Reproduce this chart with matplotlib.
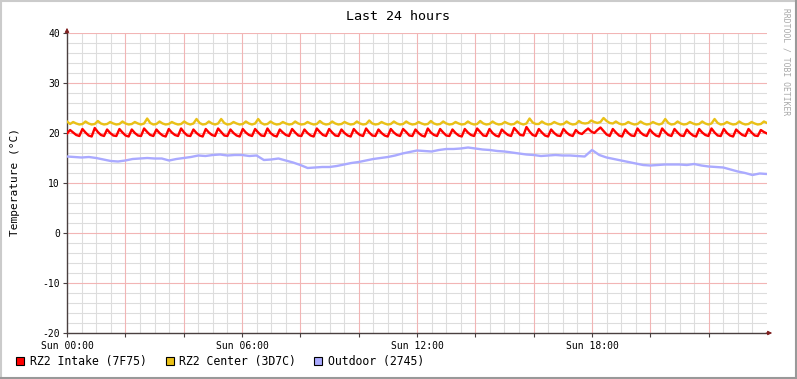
import numpy as np
import matplotlib
matplotlib.use("Agg")
import matplotlib.pyplot as plt
from matplotlib.lines import Line2D
from matplotlib.patches import Rectangle

plt.rcParams['font.family'] = ['DejaVu Sans Mono']
plt.rcParams['axes.unicode_minus'] = False

# RZ2 Intake, 4 samples per heating cycle, 57 cycles over 24 h
intake = [
    19.9, 20.6, 20.1, 19.6,  19.4, 20.8, 20.1, 19.5,  19.3, 21.0, 20.2, 19.6,
    19.4, 20.7, 20.0, 19.5,  19.4, 20.8, 20.1, 19.5,  19.3, 20.7, 20.0, 19.5,
    19.4, 20.9, 20.2, 19.6,  19.4, 20.7, 20.0, 19.5,  19.3, 20.8, 20.1, 19.6,
    19.4, 20.9, 20.1, 19.5,  19.4, 20.7, 20.0, 19.5,  19.3, 20.8, 20.1, 19.6,
    19.4, 20.9, 20.2, 19.5,  19.4, 20.7, 20.0, 19.5,  19.3, 20.8, 20.1, 19.6,
    19.4, 20.8, 20.1, 19.5,  19.4, 20.9, 20.0, 19.5,  19.3, 20.7, 20.1, 19.6,
    19.4, 20.8, 20.1, 19.5,  19.4, 20.7, 20.0, 19.5,  19.3, 20.9, 20.2, 19.6,
    19.4, 20.8, 20.1, 19.5,  19.4, 20.7, 20.0, 19.5,  19.3, 20.8, 20.1, 19.6,
    19.4, 20.9, 20.1, 19.5,  19.4, 20.7, 20.0, 19.5,  19.3, 20.8, 20.1, 19.6,
    19.4, 20.8, 20.2, 19.5,  19.4, 20.7, 20.0, 19.5,  19.3, 20.9, 20.1, 19.6,
    19.4, 20.8, 20.1, 19.5,  19.4, 20.7, 20.0, 19.5,  19.3, 20.8, 20.1, 19.6,
    19.4, 20.9, 20.2, 19.5,  19.4, 20.8, 20.0, 19.5,  19.3, 20.7, 20.1, 19.6,
    19.4, 21.0, 20.3, 19.6,  19.5, 21.2, 20.3, 19.6,  19.4, 20.8, 20.1, 19.5,
    19.3, 20.7, 20.0, 19.5,  19.4, 20.8, 20.1, 19.6,  19.4, 20.6, 20.0, 19.8,
    20.4, 20.9, 20.3, 20.0,  20.6, 21.1, 20.4, 19.7,  19.4, 20.8, 20.1, 19.5,
    19.3, 20.7, 20.0, 19.5,  19.4, 20.9, 20.1, 19.6,  19.4, 20.7, 20.0, 19.5,
    19.3, 20.9, 20.2, 19.6,  19.4, 20.8, 20.1, 19.5,  19.4, 20.7, 20.0, 19.5,
    19.3, 20.8, 20.1, 19.6,  19.4, 20.9, 20.1, 19.5,  19.4, 20.8, 20.0, 19.5,
    19.3, 20.7, 20.1, 19.6,  19.4, 20.8, 20.1, 19.5,  19.4, 20.6, 20.2, 19.9,
]

# RZ2 Center, same sampling
center = [
    22.3, 21.8, 22.2, 21.9,  21.7, 21.8, 22.3, 21.9,  21.7, 21.8, 22.4, 21.9,
    21.7, 21.8, 22.2, 21.9,  21.7, 21.8, 22.3, 21.9,  21.7, 21.8, 22.2, 21.9,
    21.7, 21.9, 22.9, 22.0,  21.7, 21.8, 22.3, 21.9,  21.7, 21.8, 22.2, 21.9,
    21.7, 21.8, 22.3, 21.9,  21.7, 21.9, 22.8, 22.0,  21.7, 21.8, 22.3, 21.9,
    21.7, 21.9, 22.8, 22.0,  21.7, 21.8, 22.2, 21.9,  21.7, 21.8, 22.3, 21.9,
    21.7, 21.9, 22.8, 22.0,  21.7, 21.8, 22.3, 21.9,  21.7, 21.8, 22.2, 21.9,
    21.7, 21.8, 22.3, 21.9,  21.7, 21.8, 22.2, 21.9,  21.7, 21.8, 22.4, 21.9,
    21.7, 21.8, 22.3, 21.9,  21.7, 21.8, 22.2, 21.9,  21.7, 21.8, 22.3, 21.9,
    21.7, 21.8, 22.5, 21.9,  21.7, 21.8, 22.2, 21.9,  21.7, 21.8, 22.3, 21.9,
    21.7, 21.8, 22.3, 21.9,  21.7, 21.8, 22.2, 21.9,  21.7, 21.8, 22.4, 21.9,
    21.7, 21.8, 22.3, 21.9,  21.7, 21.8, 22.2, 21.9,  21.7, 21.8, 22.3, 21.9,
    21.7, 21.8, 22.4, 21.9,  21.7, 21.8, 22.3, 21.9,  21.7, 21.8, 22.2, 21.9,
    21.7, 21.8, 22.3, 21.9,  21.7, 21.9, 22.9, 22.1,  21.8, 21.8, 22.3, 21.9,
    21.7, 21.8, 22.2, 21.9,  21.7, 21.8, 22.3, 21.9,  21.7, 21.8, 22.4, 22.0,
    21.9, 22.0, 22.5, 22.2,  22.0, 22.2, 23.0, 22.4,  22.0, 21.9, 22.3, 21.9,
    21.7, 21.8, 22.2, 21.9,  21.7, 21.8, 22.3, 21.9,  21.7, 21.8, 22.2, 21.9,
    21.7, 21.9, 22.8, 22.0,  21.7, 21.8, 22.3, 21.9,  21.7, 21.8, 22.2, 21.9,
    21.7, 21.8, 22.3, 21.9,  21.7, 21.9, 22.8, 22.0,  21.7, 21.8, 22.2, 21.9,
    21.7, 21.8, 22.3, 21.9,  21.7, 21.8, 22.2, 21.9,  21.7, 21.8, 22.3, 22.0,
]

# Outdoor, every 15 minutes
outdoor = [
    15.3, 15.2, 15.1, 15.2, 15.0, 14.7, 14.4, 14.3, 14.5, 14.8, 14.9, 15.0,
    14.9, 14.9, 14.5, 14.8, 15.0, 15.2, 15.5, 15.4, 15.6, 15.7, 15.5, 15.6,
    15.6, 15.4, 15.5, 14.6, 14.7, 14.9, 14.5, 14.1, 13.6, 13.0, 13.1, 13.2,
    13.2, 13.4, 13.7, 14.0, 14.2, 14.5, 14.8, 15.0, 15.2, 15.5, 15.9, 16.2,
    16.5, 16.4, 16.3, 16.6, 16.8, 16.8, 16.9, 17.1, 16.9, 16.7, 16.6, 16.4,
    16.3, 16.1, 15.9, 15.7, 15.6, 15.4, 15.5, 15.6, 15.5, 15.5, 15.4, 15.3,
    16.6, 15.6, 15.1, 14.8, 14.5, 14.2, 13.9, 13.6, 13.5, 13.6, 13.7, 13.7,
    13.7, 13.6, 13.8, 13.5, 13.3, 13.2, 13.1, 12.7, 12.3, 12.0, 11.6, 11.9,
    11.8,
]

labels = ["RZ2 Intake (7F75)", "RZ2 Center (3D7C)", "Outdoor (2745)"]
colors = ["#FF0000", "#EAC117", "#AAAAFF"]
tick_hours = [0, 6, 12, 18]
tick_text = ["Sun 00:00", "Sun 06:00", "Sun 12:00", "Sun 18:00"]

W, H = 797, 379
fig = plt.figure(figsize=(W / 100, H / 100), dpi=100)
fig.patch.set_facecolor("white")

def fx(x):
    return x / W

def fy(y):
    return 1 - y / H

ax = fig.add_axes([fx(67), fy(333), fx(767) - fx(67), fy(33) - fy(333)])
ax.set_xlim(0, 24)
ax.set_ylim(-20, 40)

# grid like rrdtool: minor grey, major pinkish red
for h in np.arange(0.5, 24, 0.5):
    if h % 2 != 0:
        ax.axvline(h, color="#DDDDDD", lw=0.8, zorder=0)
for v in np.arange(-18, 40, 2):
    if v % 10 != 0:
        ax.axhline(v, color="#DDDDDD", lw=0.8, zorder=0)
for h in np.arange(2, 24, 2):
    ax.axvline(h, color="#F2B5B5", lw=0.8, zorder=0.5)
for v in np.arange(-10, 41, 10):
    ax.axhline(v, color="#F2B5B5", lw=0.8, zorder=0.5)

series = [intake, center, outdoor]
for vals, c, lab in zip(series, colors, labels):
    t = np.linspace(0, 24, len(vals))
    ax.plot(t, vals, color=c, lw=1.7, label=lab, zorder=3)

for s in ["top", "right"]:
    ax.spines[s].set_visible(False)
for s in ["left", "bottom"]:
    ax.spines[s].set_color("#4A4040")
    ax.spines[s].set_linewidth(1.0)

ax.set_xticks(np.arange(0, 24, 2))
ax.set_xticklabels([tick_text[tick_hours.index(h)] if h in tick_hours else ""
                    for h in range(0, 24, 2)])
ax.set_yticks(np.arange(-20, 41, 10))
ax.tick_params(axis="both", length=3, width=0.8, color="#4A4040",
               labelsize=7, pad=2, direction="out")
ax.tick_params(axis="x", pad=3)

# axis arrows
ax.annotate("", xy=(1.0 + 8 / 700, 0), xytext=(0.995, 0),
            xycoords="axes fraction", annotation_clip=False,
            arrowprops=dict(arrowstyle="-|>", color="#7F1F1F", lw=0.8,
                            mutation_scale=6))
ax.annotate("", xy=(0, 1.0 + 8 / 300), xytext=(0, 0.99),
            xycoords="axes fraction", annotation_clip=False,
            arrowprops=dict(arrowstyle="-|>", color="#7F1F1F", lw=0.8,
                            mutation_scale=6))

fig.text(fx(398), fy(16), "Last 24 hours", ha="center", va="center", fontsize=9.6)
fig.text(fx(15), fy(182), "Temperature (°C)", ha="center", va="center",
         rotation=90, fontsize=8)
fig.text(fx(786), fy(8), "RRDTOOL / TOBI OETIKER", ha="center", va="top",
         rotation=270, fontsize=5.8, color="#A8A8A8")

# legend
box_x = [16, 166, 314]
text_x = [30, 179, 328]
for bx, tx, c, lab in zip(box_x, text_x, colors, labels):
    fig.patches.append(Rectangle((fx(bx), fy(365)), 8 / W, 8 / H,
                                 transform=fig.transFigure, facecolor=c,
                                 edgecolor="black", lw=0.8))
    fig.text(fx(tx), fy(361), lab, ha="left", va="center", fontsize=8.3)

# frame shading
fig.add_artist(Line2D([0, 1], [fy(1), fy(1)], transform=fig.transFigure, color="#CBCBCB", lw=1.5))
fig.add_artist(Line2D([fx(1), fx(1)], [0, 1], transform=fig.transFigure, color="#CBCBCB", lw=1.5))
fig.add_artist(Line2D([0, 1], [fy(378), fy(378)], transform=fig.transFigure, color="#999999", lw=1.5))
fig.add_artist(Line2D([fx(796), fx(796)], [0, 1], transform=fig.transFigure, color="#999999", lw=1.5))

fig.savefig("out.png", dpi=100)
